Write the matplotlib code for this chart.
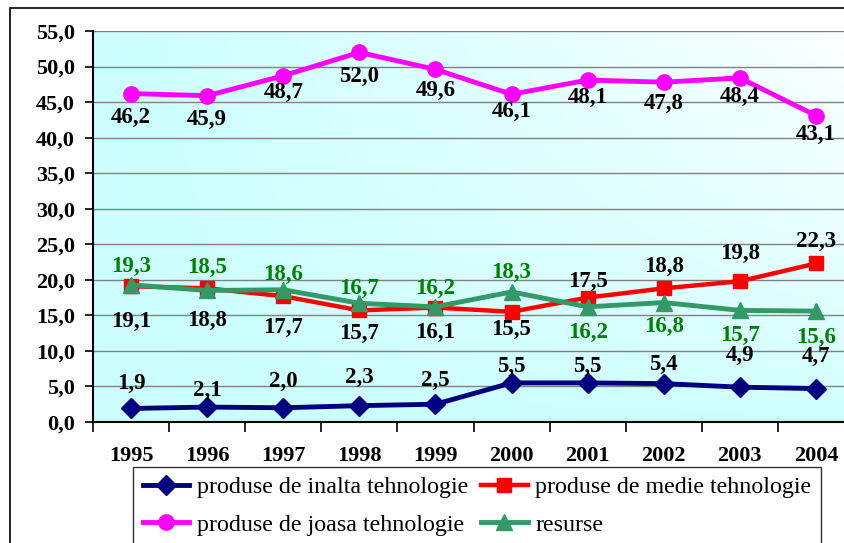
import numpy as np
import matplotlib
matplotlib.use('Agg')
import matplotlib.pyplot as plt
from matplotlib.patches import Rectangle
from matplotlib.ticker import FixedLocator, FuncFormatter

# data
years = ['1995', '1996', '1997', '1998', '1999', '2000', '2001', '2002', '2003', '2004']
inalta = [1.9, 2.1, 2.0, 2.3, 2.5, 5.5, 5.5, 5.4, 4.9, 4.7]
medie = [19.1, 18.8, 17.7, 15.7, 16.1, 15.5, 17.5, 18.8, 19.8, 22.3]
joasa = [46.2, 45.9, 48.7, 52.0, 49.6, 46.1, 48.1, 47.8, 48.4, 43.1]
resurse = [19.3, 18.5, 18.6, 16.7, 16.2, 18.3, 16.2, 16.8, 15.7, 15.6]
names = ['produse de inalta tehnologie', 'produse de medie tehnologie',
         'produse de joasa tehnologie', 'resurse']

# label offsets in pixels (positive = above the point)
off_inalta = [25, 17, 26, 28, 24, 16, 16, 19, 32, 32]
off_medie = [-35, -32, -31, -23, -25, -18, 16, 22, 28, 22]
off_joasa = [-24, -24, -17, -24, -21, -17, -17, -21, -19, -19]
off_resurse = [18, 23, 15, 15, 18, 19, -26, -24, -25, -26]

W, H = 845, 543
fig = plt.figure(figsize=(W / 100, H / 100), dpi=100)
fig.patch.set_facecolor('white')
plt.rcParams['font.family'] = ['Liberation Serif', 'DejaVu Serif']

ax = fig.add_axes([93 / W, (H - 422) / H, (854 - 93) / W, (422 - 31) / H])
ax.set_xlim(-0.5, 9.5)
ax.set_ylim(0, 55)

# gradient background: cyan on the left/bottom, nearly white top right
gx = np.linspace(0, 1, 300)
gy = np.linspace(1, 0, 200)
GX, GY = np.meshgrid(gx, gy)
t = np.clip((GX ** 1.2) * (GY ** 0.7), 0, 1)
c0 = np.array([0.80, 1.0, 1.0])
c1 = np.array([0.99, 1.0, 1.0])
img = c0[None, None, :] * (1 - t[..., None]) + c1[None, None, :] * t[..., None]
ax.imshow(img, extent=[-0.5, 9.5, 0, 55], aspect='auto', zorder=0,
          interpolation='bilinear')

ax.yaxis.set_major_locator(FixedLocator(np.arange(0, 56, 5)))
ax.yaxis.set_major_formatter(FuncFormatter(lambda v, p: f'{v:.1f}'.replace('.', ',')))
ax.grid(axis='y', color='#808080', linewidth=1.0, zorder=1)
ax.set_axisbelow(True)

x = np.arange(len(years))
ax.set_xticks(x)
ax.set_xticklabels(years)
ax.set_xticks(np.arange(-0.5, 10, 1), minor=True)
ax.tick_params(axis='x', which='major', length=0, pad=17)
ax.tick_params(axis='x', which='minor', length=7, width=1.2, direction='out')
ax.tick_params(axis='y', length=6, width=1.2, direction='out', pad=7)
for lab in ax.get_xticklabels() + ax.get_yticklabels():
    lab.set_fontsize(16)
    lab.set_fontweight('bold')

for s in ['top', 'right']:
    ax.spines[s].set_visible(False)
for s in ['left', 'bottom']:
    ax.spines[s].set_linewidth(1.5)
    ax.spines[s].set_zorder(5)

l1, = ax.plot(x, inalta, color='#000080', lw=3.5, marker='D', ms=10, zorder=3)
l2, = ax.plot(x, medie, color='#FF0000', lw=3.2, marker='s', ms=10, zorder=3)
l3, = ax.plot(x, joasa, color='#FF00FF', lw=3.5, marker='o', ms=11, zorder=3)
l4, = ax.plot(x, resurse, color='#339966', lw=3.5, marker='^', ms=12, zorder=4)


def put_labels(vals, offs, color):
    for xi, v, o in zip(x, vals, offs):
        ax.annotate(f'{v:.1f}'.replace('.', ','), (xi, v),
                    xytext=(0, o * 0.72), textcoords='offset points',
                    ha='center', va='center', fontsize=16.5, fontweight='bold',
                    color=color, zorder=6)


put_labels(inalta, off_inalta, 'black')
put_labels(medie, off_medie, 'black')
put_labels(joasa, off_joasa, 'black')
put_labels(resurse, off_resurse, '#008000')

leg = fig.legend([l1, l3, l2, l4], [names[0], names[2], names[1], names[3]],
                 ncol=2, loc='upper left', bbox_to_anchor=(133 / W, 1 - 467 / H),
                 borderaxespad=0, fontsize=17.3, frameon=True, fancybox=False,
                 edgecolor='black', handlelength=1.95, handletextpad=0.33,
                 columnspacing=0.5, borderpad=0.4, labelspacing=0.65)
leg.get_frame().set_linewidth(1.0)

# outer chart frame (cropped at right and bottom)
fig.add_artist(Rectangle((10 / W, -0.2), 1.0, 1 - 8 / H + 0.2,
                         transform=fig.transFigure, fill=False,
                         edgecolor='black', linewidth=1.2, clip_on=False))

fig.savefig('out.png', dpi=100)
